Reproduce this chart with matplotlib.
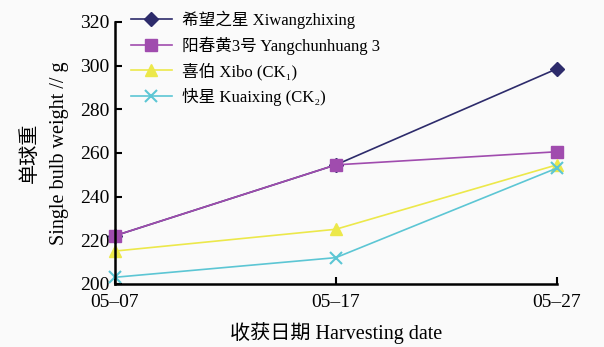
import matplotlib
matplotlib.use("Agg")
import matplotlib.pyplot as plt

plt.rcParams['font.family'] = ['Liberation Serif', 'Noto Sans CJK SC', 'DejaVu Serif']

dates = ['05\u201307', '05\u201317', '05\u201327']
xiwang = [222, 254.5, 298.5]
yangchun = [222, 254.5, 260.5]
xibo = [215, 225, 254.5]
kuaixing = [203, 212, 253]

names = ['希望之星 Xiwangzhixing', '阳春黄3号 Yangchunhuang 3',
         '喜伯 Xibo (CK\u2081)', '快星 Kuaixing (CK\u2082)']
colors = ['#2d2b6b', '#a04cae', '#ece84a', '#5cc6d4']
markers = ['D', 's', '^', 'x']
sizes = [7, 8, 9, 9]

fig = plt.figure(figsize=(6.04, 3.47), dpi=100)
fig.patch.set_facecolor('#fafafa')
ax = fig.add_axes([0.190, 0.182, 0.732, 0.755])
ax.set_facecolor('#fafafa')

x = list(range(len(dates)))
for vals, name, c, m, s in zip([xiwang, yangchun, xibo, kuaixing], names, colors, markers, sizes):
    ax.plot(x, vals, color=c, marker=m, markersize=s, lw=1.2, label=name,
            markeredgewidth=1.5 if m == 'x' else 1, clip_on=False)

ax.set_xlim(0, 2)
ax.set_ylim(200, 320)
ax.set_xticks(x)
ax.set_xticklabels(dates)
ax.set_yticks(range(200, 321, 20))
ax.spines['top'].set_visible(False)
ax.spines['right'].set_visible(False)
ax.spines['left'].set_linewidth(1.8)
ax.spines['bottom'].set_linewidth(1.8)
ax.tick_params(direction='in', length=5, width=1.5, labelsize=14)
ax.tick_params(axis='x', pad=7)
ax.tick_params(axis='y', pad=4)

ax.set_ylabel('单球重\nSingle bulb weight // g', fontsize=14.5, linespacing=1.7, labelpad=8)
ax.set_xlabel('收获日期 Harvesting date', fontsize=14.5, labelpad=8)

ax.legend(loc='upper left', bbox_to_anchor=(0.002, 1.10), frameon=False,
          fontsize=12, handlelength=2.5, labelspacing=0.45, handletextpad=0.6)

fig.savefig('out.png', dpi=100, facecolor=fig.get_facecolor())
